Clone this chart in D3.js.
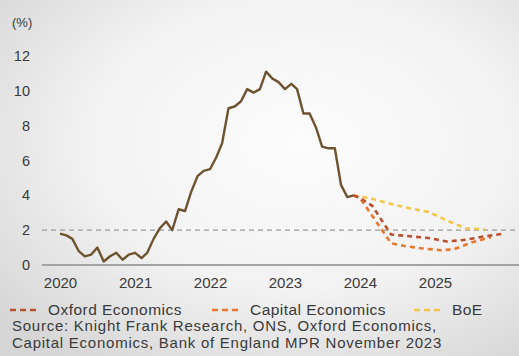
<!DOCTYPE html>
<html><head><meta charset="utf-8">
<script src="https://cdn.jsdelivr.net/npm/d3@7"></script>
<style>
html,body{margin:0;padding:0;}
body{width:519px;height:356px;overflow:hidden;}
text{font-family:"Liberation Sans",Arial,sans-serif;fill:#3a3a3a;}
</style></head>
<body>
<svg id="c" width="519" height="356"></svg>
<script>
// ---- data ----
const cpiStart = "2020-01";
const cpiValues = [1.8,1.7,1.5,0.8,0.5,0.6,1.0,0.2,0.5,0.7,0.3,0.6,
  0.7,0.4,0.7,1.5,2.1,2.5,2.0,3.2,3.1,4.2,5.1,5.4,
  5.5,6.2,7.0,9.0,9.1,9.4,10.1,9.9,10.1,11.1,10.7,10.5,
  10.1,10.4,10.1,8.7,8.7,7.9,6.8,6.7,6.7,4.6,3.9,4.0];
const oxfordDates  = ["2023-12","2024-01","2024-03","2024-06","2024-09","2024-12","2025-03","2025-06","2025-09","2025-12"];
const oxfordValues = [4.0,3.85,3.4,1.75,1.65,1.55,1.35,1.45,1.65,1.8];
const capitalDates  = ["2023-12","2024-01","2024-04","2024-06","2024-08","2024-11","2025-02","2025-04","2025-07","2025-10"];
const capitalValues = [4.0,3.85,2.3,1.25,1.1,0.95,0.85,0.9,1.3,1.6];
const boeDates  = ["2023-12","2024-03","2024-06","2024-09","2024-12","2025-03","2025-06","2025-09"];
const boeValues = [4.0,3.8,3.5,3.25,3.05,2.55,2.1,2.05];
const yearTicks = ["2020","2021","2022","2023","2024","2025"];
const yTicks = [0,2,4,6,8,10,12];
const targetRate = 2;
const legendLabels = ["Oxford Economics","Capital Economics","BoE"];
const sourceLines = ["Source: Knight Frank Research, ONS, Oxford Economics,",
                     "Capital Economics, Bank of England MPR November 2023"];

// ---- setup ----
const svg = d3.select("#c");
const parseM = d3.timeParse("%Y-%m");
const parseY = d3.timeParse("%Y");
const colors = {cpi:"#6e5330", oxford:"#b8502e", capital:"#e8782f", boe:"#f2c64a"};
const FONT = "Liberation Sans, Arial, sans-serif";

const defs = svg.append("defs");
const rg = defs.append("radialGradient").attr("id","bg").attr("cx","58%").attr("cy","40%").attr("r","75%");
rg.append("stop").attr("offset","0%").attr("stop-color","#fcfcfc");
rg.append("stop").attr("offset","55%").attr("stop-color","#f2f2f2");
rg.append("stop").attr("offset","100%").attr("stop-color","#d6d6d6");
svg.append("rect").attr("width",519).attr("height",356).attr("fill","url(#bg)");

const x = d3.scaleTime().domain([parseM("2020-01"), parseM("2025-01")]).range([60, 435]);
const y = d3.scaleLinear().domain([0,12]).range([265, 56]);

// y labels
svg.append("text").attr("x",12).attr("y",27).attr("font-size",13).text("(%)");
const yAxis = d3.axisLeft(y).tickValues(yTicks).tickSize(0).tickPadding(0);
const gy = svg.append("g").attr("transform","translate(30,0)").call(yAxis);
gy.select(".domain").remove();
gy.selectAll("text").attr("font-size",14.5).style("font-family",FONT).attr("fill","#3a3a3a");

// baseline and target
svg.append("line").attr("x1",42).attr("x2",519).attr("y1",y(0)).attr("y2",y(0))
  .attr("stroke","#a3a3a3").attr("stroke-width",1.8);
svg.append("line").attr("x1",42).attr("x2",519).attr("y1",y(targetRate)).attr("y2",y(targetRate))
  .attr("stroke","#9a9a9a").attr("stroke-width",1.2).attr("stroke-dasharray","5,4");

// x axis labels
const xAxis = d3.axisBottom(x).tickValues(yearTicks.map(parseY)).tickFormat(d3.timeFormat("%Y")).tickSize(0).tickPadding(0);
const gx = svg.append("g").attr("transform","translate(0,277)").call(xAxis);
gx.select(".domain").remove();
gx.selectAll("text").attr("font-size",15).attr("dy","0.71em").style("font-family",FONT).attr("fill","#3a3a3a");

// lines
const line = d3.line().x(d=>x(d.date)).y(d=>y(d.v));
const startDate = parseM(cpiStart);
const cpi = cpiValues.map((v,i)=>({date:d3.timeMonth.offset(startDate,i), v}));
const mk = (ds,vs)=>ds.map((d,i)=>({date:parseM(d), v:vs[i]}));

svg.append("path").datum(mk(boeDates,boeValues)).attr("d",line).attr("fill","none")
  .attr("stroke",colors.boe).attr("stroke-width",2.6).attr("stroke-dasharray","5,4");
svg.append("path").datum(mk(capitalDates,capitalValues)).attr("d",line).attr("fill","none")
  .attr("stroke",colors.capital).attr("stroke-width",2.6).attr("stroke-dasharray","5,4");
svg.append("path").datum(mk(oxfordDates,oxfordValues)).attr("d",line).attr("fill","none")
  .attr("stroke",colors.oxford).attr("stroke-width",2.6).attr("stroke-dasharray","5,4");
svg.append("path").datum(cpi).attr("d",line).attr("fill","none")
  .attr("stroke",colors.cpi).attr("stroke-width",2.4).attr("stroke-linejoin","round");

// legend
const legX = [10, 212, 414];
const legC = [colors.oxford, colors.capital, colors.boe];
legendLabels.forEach((lab,i)=>{
  svg.append("line").attr("x1",legX[i]).attr("x2",legX[i]+28).attr("y1",310).attr("y2",310)
    .attr("stroke",legC[i]).attr("stroke-width",2.6).attr("stroke-dasharray","6,4");
  svg.append("text").attr("x",legX[i]+38).attr("y",315).attr("font-size",15.5)
    .attr("letter-spacing",0.45).text(lab);
});
sourceLines.forEach((s,i)=>{
  svg.append("text").attr("x",12).attr("y",331+i*16.5).attr("font-size",15)
    .attr("letter-spacing",0.75).text(s);
});
</script>
</body></html>
